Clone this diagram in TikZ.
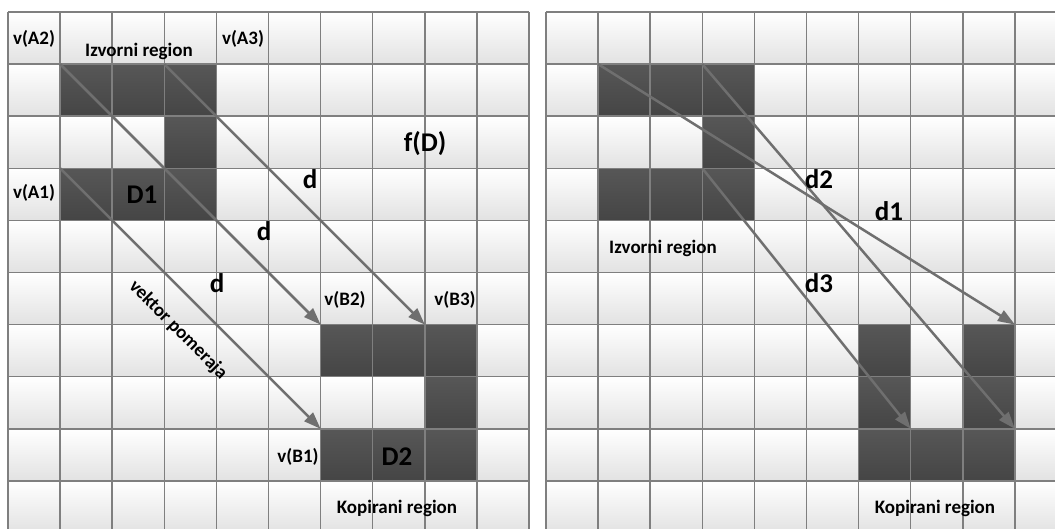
\documentclass[tikz,border=0pt]{standalone}
\usepackage{fontspec}
\setmainfont{Carlito}
\usetikzlibrary{arrows.meta}
\definecolor{gridline}{HTML}{7F7F7F}
\definecolor{cellbot}{HTML}{E2E2E2}
\definecolor{darktop}{HTML}{575757}
\definecolor{darkbot}{HTML}{454545}
\definecolor{arrowc}{HTML}{6F6F6F}
\tikzset{
 cell/.style={top color=white,bottom color=cellbot},
 dark/.style={top color=darktop,bottom color=darkbot},
 gridl/.style={draw=gridline,line width=1.5pt},
 arr/.style={draw=arrowc,line width=2.5pt,-{Triangle[length=17pt,width=12pt]}},
 lbl/.style={font=\fontsize{19}{19}\selectfont\bfseries,inner sep=0pt},
 big/.style={font=\fontsize{27}{27}\selectfont\bfseries,inner sep=0pt},
}
\begin{document}
\begin{tikzpicture}[x=1pt,y=-1pt]
\useasboundingbox (0,0) rectangle (1055,529);
\clip (0,0) rectangle (1055,529);
\fill[white] (0,0) rectangle (1055,529);
% left grid
\begin{scope}[shift={(8pt,-12pt)},x=52.1pt,y=-52.1pt]
 \foreach \c in {0,...,9} \foreach \r in {0,...,9} \shade[cell] (\c,\r) rectangle +(1,1);
 \foreach \c/\r in {1/1,2/1,3/1,3/2,1/3,2/3,3/3,6/6,7/6,8/6,8/7,6/8,7/8,8/8} \shade[dark] (\c,\r) rectangle +(1,1);
 \foreach \i in {0,...,10} {\draw[gridl] (\i,0) -- (\i,10); \draw[gridl] (0,\i) -- (10,\i);}
 \coordinate (A2) at (1,1);
 \coordinate (A3) at (3,1);
 \coordinate (A1) at (1,3);
 \coordinate (B2) at (6,6);
 \coordinate (B3) at (8,6);
 \coordinate (B1) at (6,8);
\end{scope}
% right grid
\begin{scope}[shift={(546pt,-12pt)},x=52.1pt,y=-52.1pt]
 \foreach \c in {0,...,9} \foreach \r in {0,...,9} \shade[cell] (\c,\r) rectangle +(1,1);
 \foreach \c/\r in {1/1,2/1,3/1,3/2,1/3,2/3,3/3,6/6,8/6,6/7,8/7,6/8,7/8,8/8} \shade[dark] (\c,\r) rectangle +(1,1);
 \foreach \i in {0,...,10} {\draw[gridl] (\i,0) -- (\i,10); \draw[gridl] (0,\i) -- (10,\i);}
 \coordinate (P1) at (1,1);
 \coordinate (P2) at (3,1);
 \coordinate (P3) at (3,3);
 \coordinate (Q1) at (9,6);
 \coordinate (Q2) at (9,8);
 \coordinate (Q3) at (7,8);
\end{scope}
% arrows
\draw[arr] (A2) -- (B2);
\draw[arr] (A3) -- (B3);
\draw[arr] (A1) -- (B1);
\draw[arr] (P1) -- (Q1);
\draw[arr] (P2) -- (Q2);
\draw[arr] (P3) -- (Q3);
% left labels
\node[lbl] (tA2) at (34,39) {v(A2)};
\node[lbl] (tIz1) at (139,51) {Izvorni region};
\node[lbl] (tA3) at (243,39) {v(A3)};
\node[lbl] (tA1) at (34,193) {v(A1)};
\node[big] (tD1) at (142,195) {D1};
\node[big] (tfD) at (425,144) {f(D)};
\node[big] (td1) at (310,179) {d};
\node[big] (td2) at (264,231) {d};
\node[big] (td3) at (217,283) {d};
\node[lbl,rotate=-45] (tvek) at (178,330) {vektor pomeraja};
\node[lbl] (tB2) at (345,300) {v(B2)};
\node[lbl] (tB3) at (455,300) {v(B3)};
\node[lbl] (tB1) at (298,457) {v(B1)};
\node[big] (tD2) at (397,457) {D2};
\node[lbl] (tKop1) at (397,508) {Kopirani region};
% right labels
\node[big] (rd2) at (819,179) {d2};
\node[big] (rd1) at (889,211) {d1};
\node[big] (rd3) at (819,283) {d3};
\node[lbl] (tIz2) at (663,248) {Izvorni region};
\node[lbl] (tKop2) at (935,508) {Kopirani region};
\end{tikzpicture}
\end{document}
